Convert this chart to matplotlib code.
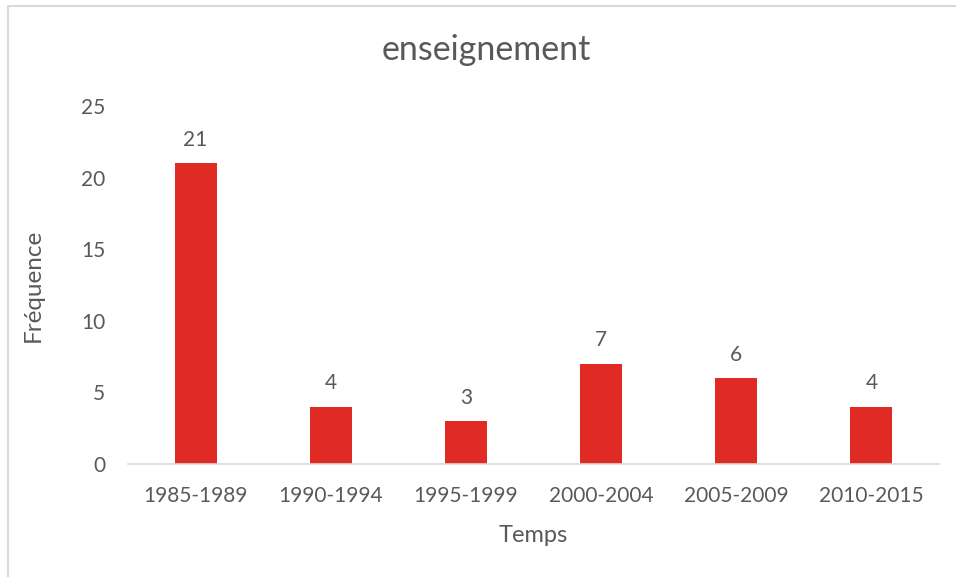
import matplotlib
matplotlib.use("Agg")
import matplotlib.pyplot as plt
from matplotlib.patches import Rectangle

periods = ["1985-1989", "1990-1994", "1995-1999", "2000-2004", "2005-2009", "2010-2015"]
frequencies = [21, 4, 3, 7, 6, 4]
y_ticks = [0, 5, 10, 15, 20, 25]

title = "enseignement"
x_label = "Temps"
y_label = "Fréquence"

text_color = "#595959"
bar_color = "#E02B25"

plt.rcParams["font.family"] = ["Lato", "DejaVu Sans"]

W, H = 956, 577
fig = plt.figure(figsize=(W / 100, H / 100), dpi=100)
fig.patch.set_facecolor("white")

# chart border
fig.patches.append(Rectangle((8 / W, -0.05), 1.1, 1 - 6 / H + 0.05,
                             transform=fig.transFigure, fill=False,
                             edgecolor="#D9D9D9", linewidth=1.5))

ax = fig.add_axes([128 / W, 1 - 464 / H, (939 - 128) / W, (464 - 106) / H])
x = range(len(periods))
bars = ax.bar(x, frequencies, width=0.31, color=bar_color)

ax.set_xlim(-0.5, len(periods) - 0.5)
ax.set_ylim(0, 25)
ax.set_yticks(y_ticks)
ax.set_xticks(list(x))
ax.set_xticklabels(periods)

for s in ["top", "right", "left"]:
    ax.spines[s].set_visible(False)
ax.spines["bottom"].set_color("#D9D9D9")
ax.spines["bottom"].set_linewidth(1.2)

ax.tick_params(axis="both", length=0, colors=text_color, labelsize=15)
ax.tick_params(axis="y", pad=16.5)
ax.tick_params(axis="x", pad=16)

for rect, v in zip(bars, frequencies):
    ax.annotate(str(v), (rect.get_x() + rect.get_width() / 2, v),
                xytext=(0, 12.5), textcoords="offset points",
                ha="center", va="baseline", fontsize=15, color=text_color)

ax.set_xlabel(x_label, fontsize=17, color=text_color, va="center")
ax.set_ylabel(y_label, fontsize=17.5, color=text_color, va="center")
ax.xaxis.set_label_coords(0.5, (464 - 535) / 358)
ax.yaxis.set_label_coords((33 - 128) / 811, (464 - 285) / 358)

fig.text(486 / W, 1 - 50 / H, title,
         ha="center", va="center", fontsize=24.5, color=text_color)

fig.savefig("out.png", dpi=100, facecolor="white")
